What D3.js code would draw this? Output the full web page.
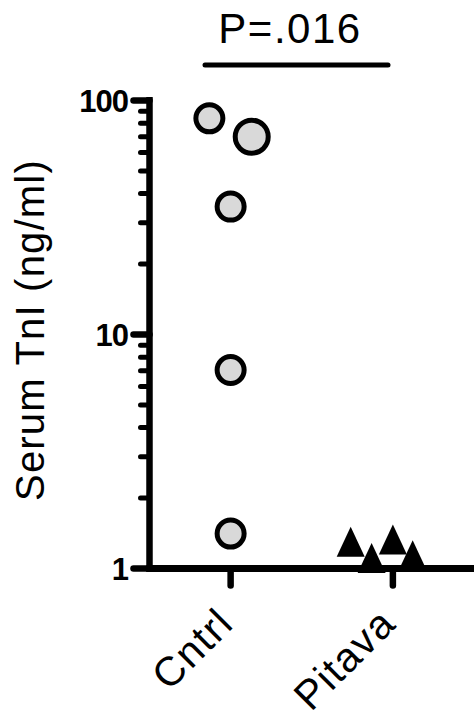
<!DOCTYPE html>
<html>
<head>
<meta charset="utf-8">
<script src="https://cdn.jsdelivr.net/npm/d3@7"></script>
<style>
  html, body { margin: 0; padding: 0; background: #fff; }
  svg { display: block; }
</style>
</head>
<body>
<svg id="chart" width="474" height="719"></svg>
<script>
// ---- data ----
const categories = ["Cntrl", "Pitava"];
const cntrlValues = [83.9, 70.0, 35.2, 7.05, 1.41];
const cntrlJitter = [-0.131, 0.130, 0, 0, 0];
const pitavaValues = [1.30, 1.11, 1.33, 1.14];
const pitavaJitter = [-0.26, -0.131, 0, 0.122];
const yTickValues = [1, 10, 100];
const yTickLabels = ["1", "10", "100"];
const yAxisTitle = "Serum TnI (ng/ml)";
const pValueLabel = "P=.016";

// ---- layout ----
const svg = d3.select("#chart");
const axisX = 149.5, axisBottom = 568.5, axisTop = 100.5, rightEdge = 474;

const y = d3.scaleLog().domain([1, 100]).range([axisBottom, axisTop]);
const x = d3.scalePoint().domain(categories).range([axisX, rightEdge]).padding(0.5);
const step = x.step();

const font = "'Liberation Sans', Arial, Helvetica, sans-serif";

// y axis line
svg.append("line")
  .attr("x1", axisX).attr("x2", axisX)
  .attr("y1", y(100) - 3.5).attr("y2", axisBottom + 3.5)
  .attr("stroke", "#000").attr("stroke-width", 6.5);

// minor ticks
const minorTicks = y.ticks(20).filter(v => !yTickValues.includes(v));
svg.selectAll("line.minor").data(minorTicks).enter().append("line")
  .attr("class", "minor")
  .attr("x1", axisX - 9).attr("x2", axisX)
  .attr("y1", d => y(d)).attr("y2", d => y(d))
  .attr("stroke", "#000").attr("stroke-width", 5).attr("stroke-linecap", "round");

// major ticks
svg.selectAll("line.major").data(yTickValues).enter().append("line")
  .attr("class", "major")
  .attr("x1", axisX - 16).attr("x2", axisX)
  .attr("y1", d => y(d)).attr("y2", d => y(d))
  .attr("stroke", "#000").attr("stroke-width", 6.5).attr("stroke-linecap", "round");

// tick labels
svg.selectAll("text.ytl").data(yTickValues).enter().append("text")
  .attr("class", "ytl")
  .attr("x", 128).attr("y", d => y(d))
  .attr("dy", "0.36em")
  .attr("text-anchor", "end")
  .attr("font-family", font).attr("font-weight", "bold")
  .attr("font-size", 31).attr("letter-spacing", -1)
  .text((d, i) => yTickLabels[i]);

// x axis line
svg.append("line")
  .attr("x1", axisX - 3).attr("x2", rightEdge)
  .attr("y1", axisBottom).attr("y2", axisBottom)
  .attr("stroke", "#000").attr("stroke-width", 7);

// x ticks
svg.selectAll("line.xt").data(categories).enter().append("line")
  .attr("class", "xt")
  .attr("x1", d => x(d)).attr("x2", d => x(d))
  .attr("y1", axisBottom).attr("y2", axisBottom + 17)
  .attr("stroke", "#000").attr("stroke-width", 6.5).attr("stroke-linecap", "round");

// x labels
svg.selectAll("text.xl").data(categories).enter().append("text")
  .attr("class", "xl")
  .attr("transform", d => `translate(${x(d) + 5},${axisBottom + 57}) rotate(-45)`)
  .attr("text-anchor", "end")
  .attr("font-family", font).attr("font-size", 41).attr("letter-spacing", 1.5)
  .text(d => d);

// y axis title
svg.append("text")
  .attr("transform", `translate(44,${330}) rotate(-90)`)
  .attr("text-anchor", "middle")
  .attr("font-family", font).attr("font-size", 40).attr("letter-spacing", 1.2)
  .text(yAxisTitle);

// significance bracket
svg.append("line")
  .attr("x1", 205).attr("x2", 388).attr("y1", 65).attr("y2", 65)
  .attr("stroke", "#000").attr("stroke-width", 5).attr("stroke-linecap", "round");
svg.append("text")
  .attr("x", 290).attr("y", 43)
  .attr("text-anchor", "middle")
  .attr("font-family", font).attr("font-size", 42).attr("letter-spacing", 1.5)
  .text(pValueLabel);

// Cntrl circles
const cntrlR = [13.5, 16.5, 13.5, 13.5, 13.5];
svg.selectAll("circle.c").data(cntrlValues).enter().append("circle")
  .attr("class", "c")
  .attr("cx", (d, i) => x("Cntrl") + cntrlJitter[i] * step)
  .attr("cy", d => y(d))
  .attr("r", (d, i) => cntrlR[i])
  .attr("fill", "#d9d9d9").attr("stroke", "#000").attr("stroke-width", 5);

// Pitava triangles
const triW = 28, triH = 30;
svg.selectAll("path.t").data(pitavaValues).enter().append("path")
  .attr("class", "t")
  .attr("d", (d, i) => {
    const cx = x("Pitava") + pitavaJitter[i] * step, cy = y(d);
    const p = d3.path();
    p.moveTo(cx, cy - triH / 2);
    p.lineTo(cx + triW / 2, cy + triH / 2);
    p.lineTo(cx - triW / 2, cy + triH / 2);
    p.closePath();
    return p.toString();
  })
  .attr("fill", "#000");
</script>
</body>
</html>
